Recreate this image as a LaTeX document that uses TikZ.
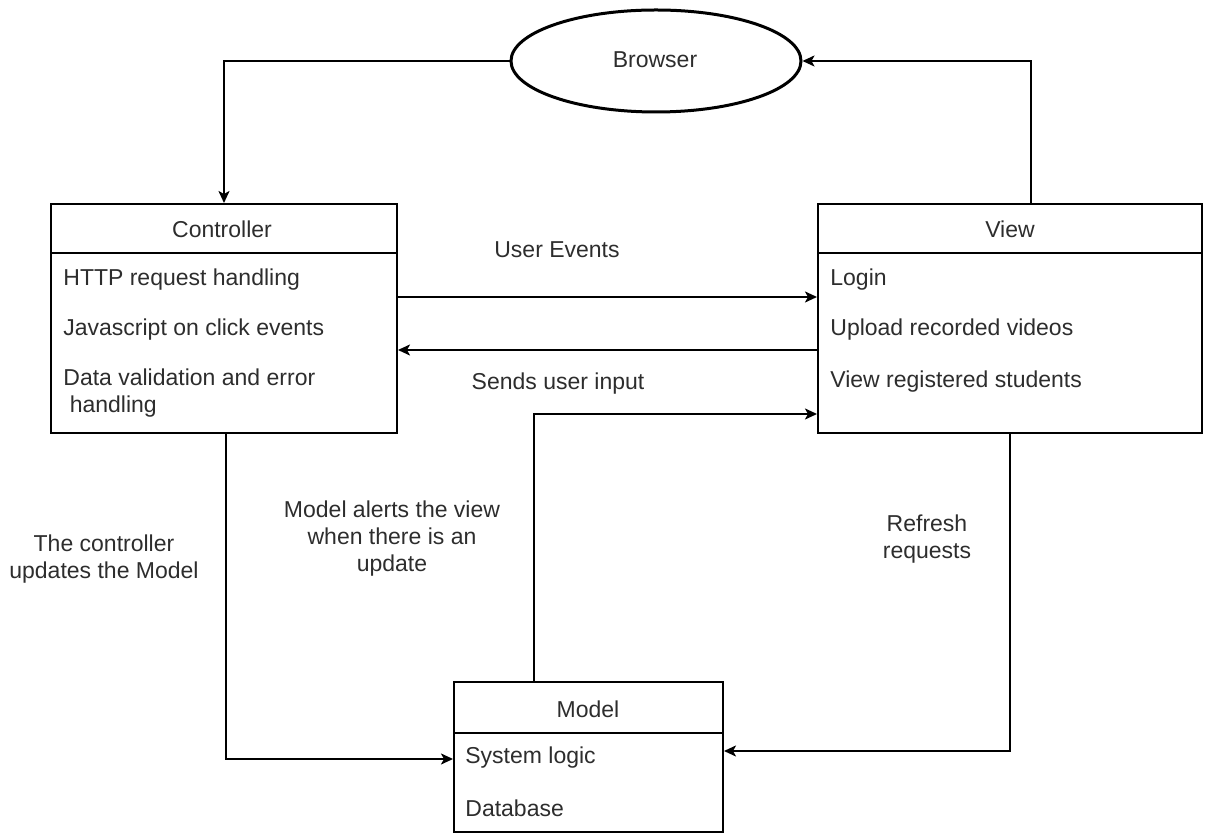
\documentclass[tikz,border=0pt]{standalone}
\usepackage{fontspec}
\setmainfont{Liberation Sans}
\usetikzlibrary{shapes.geometric,arrows.meta,calc}
\definecolor{txt}{RGB}{45,45,45}
\tikzset{
  box/.style={draw=black, line width=1pt, inner sep=0pt, fill=white},
  lbl/.style={text=txt, font=\fontsize{11.5}{13.5}\selectfont, inner sep=0pt, align=center},
  item/.style={text=txt, font=\fontsize{11.5}{13.5}\selectfont, inner sep=0pt, anchor=west, align=left},
  arr/.style={draw=black, line width=1pt, -{Stealth[length=6pt,width=5.5pt,inset=1.5pt]}},
  sep/.style={draw=black, line width=1pt}
}
\begin{document}
\begin{tikzpicture}[x=0.5pt,y=-0.5pt]
\useasboundingbox (0,0) rectangle (1205,833);
% Browser
\node[ellipse, draw=black, line width=1.5pt, inner sep=0pt, minimum width=145pt, minimum height=51pt] (br) at (656,61) {};
\node[lbl] (brt) at (655,60) {Browser};
% Controller
\node[box, minimum width=173pt, minimum height=114.5pt] (ctrl) at (224,318.5) {};
\draw[sep] (ctrl.west |- 0,253) -- (ctrl.east |- 0,253);
\node[lbl] (ctrlt) at (222,229) {Controller};
\node[item] (c1) at (63,280) {HTTP request handling};
\node[item] (c2) at (63,330) {Javascript on click events};
\node[item] (c3) at (63,393) {Data validation and error\\\ handling};
% View
\node[box, minimum width=192pt, minimum height=114.5pt] (view) at (1010,318.5) {};
\draw[sep] (view.west |- 0,253) -- (view.east |- 0,253);
\node[lbl] (viewt) at (1010,229) {View};
\node[item] (v1) at (830,280) {Login};
\node[item] (v2) at (830,330) {Upload recorded videos};
\node[item] (v3) at (830,382) {View registered students};
% Model
\node[box, minimum width=134.5pt, minimum height=74.5pt] (model) at (588.5,757) {};
\draw[sep] (model.west |- 0,733) -- (model.east |- 0,733);
\node[lbl] (modelt) at (588,709) {Model};
\node[item] (m1) at (465,758) {System logic};
\node[item] (m2) at (465,808) {Database};
% connectors
\draw[arr] (br.west) -| (ctrl.north);
\draw[arr] (view.north -| 1031,0) |- (br.east);
\draw[arr] (ctrl.east |- 0,297) -- (view.west |- 0,297);
\draw[arr] (view.west |- 0,350) -- (ctrl.east |- 0,350);
\draw[arr] (model.north -| 534,0) |- (view.west |- 0,414);
\draw[arr] (ctrl.south -| 226,0) |- (model.west |- 0,759);
\draw[arr] (view.south) |- (model.east |- 0,751);
% labels
\node[lbl] (l1) at (557,250) {User Events};
\node[lbl] (l2) at (558,384) {Sends user input};
\node[lbl] (l3) at (392,539) {Model alerts the view\\when there is an\\update};
\node[lbl] (l4) at (104,559) {The controller\\updates the Model};
\node[lbl] (l5) at (927,539) {Refresh\\requests};
\end{tikzpicture}
\end{document}
